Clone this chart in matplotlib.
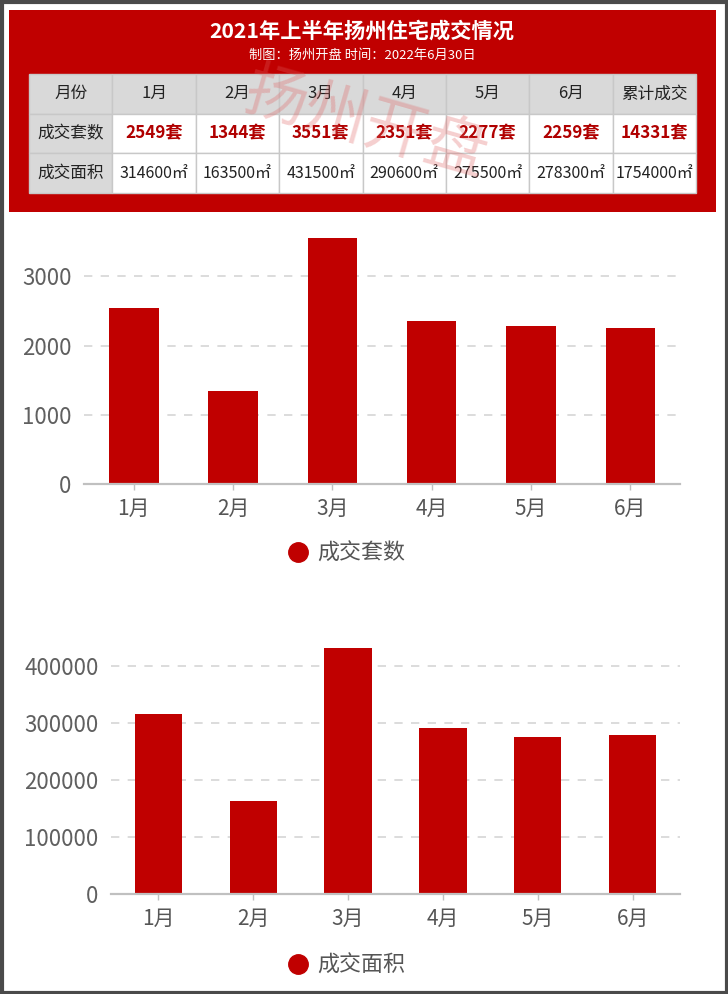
import matplotlib.pyplot as plt
from matplotlib.patches import Rectangle
from matplotlib.lines import Line2D

plt.rcParams['font.family'] = ['Noto Sans CJK SC', 'DejaVu Sans']

# 数据
months = ['1月', '2月', '3月', '4月', '5月', '6月']
units = [2549, 1344, 3551, 2351, 2277, 2259]
area = [314600, 163500, 431500, 290600, 275500, 278300]
total_units = sum(units)
total_area = sum(area)

title = '2021年上半年扬州住宅成交情况'
subtitle = '制图：扬州开盘 时间：2022年6月30日'
row_heads = ['月份', '成交套数', '成交面积']

RED = '#c00000'
W, H = 728, 994

fig = plt.figure(figsize=(W / 100, H / 100), dpi=100)
fig.patch.set_facecolor('white')

# 外框
fig.patches.append(Rectangle((1.5 / W, 1.5 / H), 1 - 3 / W, 1 - 3 / H, transform=fig.transFigure,
                             fill=False, edgecolor='#4a4a4a', linewidth=3, zorder=10))
# 顶部红色标题区
fig.patches.append(Rectangle((9 / W, 1 - 212 / H), 707 / W, 202 / H, transform=fig.transFigure,
                             facecolor=RED, edgecolor='none', zorder=-5))
fig.text(362 / W, 1 - 31 / H, title, color='white', fontsize=15.3, fontweight='bold',
         ha='center', va='center')
fig.text(362 / W, 1 - 55 / H, subtitle, color='white', fontsize=9.5, ha='center', va='center')

# 表格
tab_ax = fig.add_axes([29 / W, 1 - 193 / H, 667 / W, 119 / H])
tab_ax.axis('off')
tab_ax.set_zorder(1)
cells = [
    [row_heads[0]] + months + ['累计成交'],
    [row_heads[1]] + [f'{v}套' for v in units] + [f'{total_units}套'],
    [row_heads[2]] + [f'{v}㎡' for v in area] + [f'{total_area}㎡'],
]
colours = []
for r in range(3):
    row = []
    for c in range(8):
        row.append('#d9d9d9' if (r == 0 or c == 0) else 'white')
    colours.append(row)
tbl = tab_ax.table(cellText=cells, cellColours=colours, cellLoc='center', bbox=[0, 0, 1, 1])
tbl.auto_set_font_size(False)
for (r, c), cell in tbl.get_celld().items():
    cell.set_edgecolor('#c8c8c8')
    cell.set_linewidth(1)
    txt = cell.get_text()
    txt.set_fontsize(12)
    txt.set_color('#222222')
    if r == 1 and c > 0:
        txt.set_color('#b00000')
        txt.set_fontweight('bold')
        txt.set_fontsize(12.3)
    if r == 2 and c > 0:
        txt.set_fontsize(11.5)

# 水印
fig.text(366 / W, 1 - 124 / H, '扬州开盘', color='#e06060', alpha=0.3, fontsize=45,
         rotation=-16, ha='center', va='center', zorder=20)


def bar_chart(rect, values, ymax, step, label, legend_y):
    ax = fig.add_axes(rect)
    x = range(len(months))
    ax.bar(x, values, width=0.5, color=RED, zorder=3, label=label)
    ax.set_xlim(-0.5, len(months) - 0.5)
    ax.set_ylim(0, ymax)
    ax.set_yticks(range(0, ymax, step))
    ax.set_xticks(list(x))
    ax.set_xticklabels(months)
    ax.yaxis.grid(True, color='#d6d6d6', linestyle=(0, (5, 5)), linewidth=1.2, zorder=0)
    ax.set_axisbelow(True)
    for s in ['top', 'right', 'left']:
        ax.spines[s].set_visible(False)
    ax.spines['bottom'].set_color('#c0c0c0')
    ax.spines['bottom'].set_linewidth(1.6)
    ax.spines['bottom'].set_zorder(4)
    ax.tick_params(axis='y', length=0, pad=9, labelsize=16, labelcolor='#606060')
    ax.tick_params(axis='x', length=4, width=1, color='#c0c0c0', pad=6, labelsize=15,
                   labelcolor='#555555')
    handle = Line2D([], [], marker='o', linestyle='none', markersize=14, color=RED)
    ax.legend([handle], [label], loc='center', bbox_to_anchor=(345 / W, legend_y),
              bbox_transform=fig.transFigure, frameon=False, fontsize=15.8,
              handletextpad=0.3, handlelength=1.2, labelcolor='#555555')
    return ax


bar_chart([84 / W, 1 - 484 / H, 596 / W, 256 / H], units, 3700, 1000, '成交套数', 1 - 554 / H)
bar_chart([111 / W, 1 - 894 / H, 569 / W, 257 / H], area, 450000, 100000, '成交面积', 1 - 966 / H)

fig.savefig('out.png', dpi=100)
